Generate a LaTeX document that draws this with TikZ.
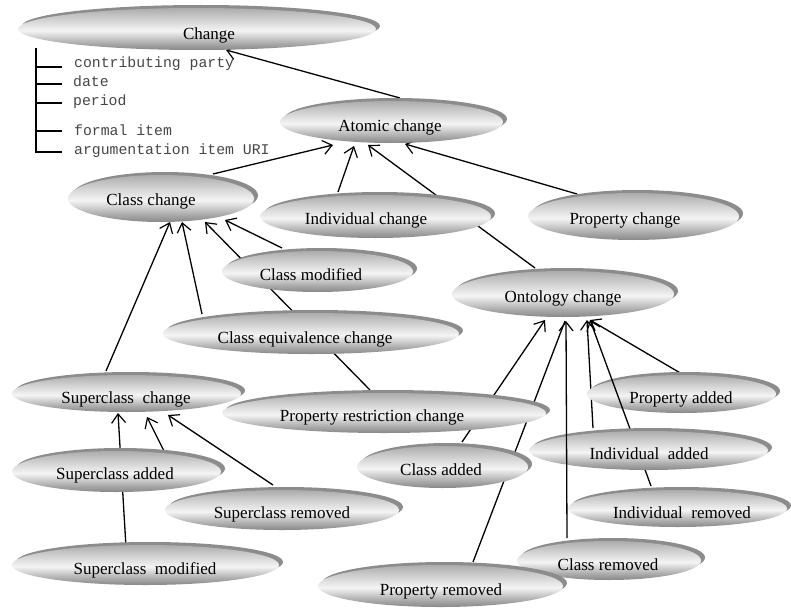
\documentclass[tikz,border=0pt]{standalone}
\usepackage{fontspec}
\setmainfont{Liberation Serif}
\newfontfamily\monof{Liberation Mono}
\usetikzlibrary{arrows.meta,calc,shadows,shapes.geometric}
\definecolor{shc}{RGB}{140,140,140}
\definecolor{gA}{RGB}{136,136,136}
\definecolor{gB}{RGB}{170,170,170}
\definecolor{gC}{RGB}{244,244,244}
\definecolor{gD}{RGB}{208,208,208}
\definecolor{gE}{RGB}{172,172,172}
\definecolor{monoc}{RGB}{70,70,70}
\pgfdeclareverticalshading{ovsh}{100bp}{color(0bp)=(gA); color(25bp)=(gA); color(33bp)=(gB); color(48bp)=(gC); color(62bp)=(gD); color(75bp)=(gE); color(100bp)=(gE)}
\pgfdeclarelayer{bg}
\pgfdeclarelayer{front}
\pgfsetlayers{bg,main,front}
\newcommand{\ovnode}[5]{\node[ov, minimum width=#4pt, minimum height=#5pt] (#1) at (#2,#3) {};}
\newcommand{\ovtext}[4]{\node[lab] (#1t) at (#2,#3+2) {#4};}
\begin{document}
\begin{tikzpicture}[x=1pt,y=-1pt,
  ov/.style={ellipse, inner sep=0pt, outer sep=0pt, shade, shading=ovsh,
    general shadow={fill=shc, shadow xshift=4pt, shadow yshift=3pt}},
  lab/.style={anchor=base, inner sep=0pt, font=\fontsize{17}{20}\selectfont},
  mono/.style={anchor=base west, inner sep=0pt, text=monoc, font=\monof\fontsize{14.8}{17}\selectfont},
  conn/.style={line width=1.3pt, -{Straight Barb[length=9pt,width=14pt,line width=1.2pt]}},
  plain/.style={line width=1.3pt},
  brk/.style={line width=1.5pt}]
\useasboundingbox (0,0) rectangle (791,607);

% bracket with attributes
\draw[brk] (36,48) -- (36,152) -- (62,152);
\draw[brk] (36,67) -- (62,67);
\draw[brk] (36,84) -- (62,84);
\draw[brk] (36,103) -- (62,103);
\draw[brk] (36,131) -- (62,131);
\node[mono] (m1) at (74,68) {contributing party};
\node[mono] (m2) at (73,87) {date};
\node[mono] (m3) at (73,106) {period};
\node[mono] (m4) at (74,135) {formal item};
\node[mono] (m5) at (74,154) {argumentation item URI};

% ovals
\ovnode{ch}{197}{29}{358}{42}      \ovtext{ch}{209}{37.5}{Change}
\ovnode{at}{391.5}{122}{223}{42}   \ovtext{at}{390}{129.5}{Atomic change}
\ovnode{cc}{161}{198.5}{186}{47}   \ovtext{cc}{151}{203.5}{Class change}
\ovnode{ic}{375.5}{216.5}{231}{43} \ovtext{ic}{366}{222.5}{Individual change}
\ovnode{pc}{633.5}{216.5}{211}{47} \ovtext{pc}{625}{222.5}{Property change}
\ovnode{cm}{317.5}{271.5}{191}{41} \ovtext{cm}{311}{278.5}{Class modified}
\ovnode{oc}{563}{294}{222}{46}     \ovtext{oc}{563}{300.5}{Ontology change}
\ovnode{ce}{311}{333.5}{296}{41}   \ovtext{ce}{305}{341.5}{Class equivalence change}
\ovnode{sc}{126.5}{393.5}{229}{37} \ovtext{sc}{126}{401.5}{Superclass\ \ change}
\ovnode{pr}{384}{413}{324}{40}     \ovtext{pr}{372}{419.5}{Property restriction change}
\ovnode{sa}{116.5}{471.5}{209}{41} \ovtext{sa}{115}{477.5}{Superclass added}
\ovnode{sr}{282}{510}{234}{40}     \ovtext{sr}{282}{516.5}{Superclass removed}
\ovnode{sm}{145.5}{565}{267}{40}   \ovtext{sm}{145}{572.5}{Superclass\ \ modified}
\ovnode{ca}{442.5}{467}{171}{42}   \ovtext{ca}{441}{473.5}{Class added}
\ovnode{pa}{681.5}{394}{189}{38}   \ovtext{pa}{681}{401.5}{Property added}
\ovnode{ir}{677.5}{508.5}{219}{37} \ovtext{ir}{682}{516.5}{Individual\ \ removed}
\draw[conn] ($(ir)+(-26.5,-22.5)$) -- ($(oc)+(27,26)$);
\ovnode{ia}{648.5}{450.5}{239}{39} \ovtext{ia}{649}{457.5}{Individual\ \ added}
\begin{pgfonlayer}{front}
\ovnode{cr}{609}{560.5}{184}{39}   \ovtext{cr}{608}{568.5}{Class removed}
\ovnode{prm}{440.5}{586}{245}{42}  \ovtext{prm}{441}{593.5}{Property removed}
\end{pgfonlayer}
\draw[conn] ($(cr)+(-42,-22.5)$) -- ($(oc)+(3,27)$);

% connectors behind the ovals
\begin{pgfonlayer}{bg}
\draw[conn] ($(at)+(8.5,-24)$) -- ($(ch)+(29,21)$);
\draw[conn] ($(cc)+(52,-24.5)$) -- ($(at)+(-58.5,23)$);
\draw[conn] ($(ic)+(-37.5,-24.5)$) -- ($(at)+(-37.5,24)$);
\draw[conn] ($(oc)+(-28,-26)$) -- ($(at)+(-23.5,23)$);
\draw[conn] ($(pc)+(-56.5,-22.5)$) -- ($(at)+(13.5,22)$);
\draw[conn] ($(sc)+(-20.5,-22.5)$) -- ($(cc)+(9,23.5)$);
\draw[conn] ($(ce)+(-109,-19.5)$) -- ($(cc)+(21,23.5)$);
\draw[conn] ($(pr)+(-14,-23)$) -- ($(cc)+(44,23.5)$);
\draw[conn] ($(cm)+(-35.5,-23.5)$) -- ($(cc)+(64,21.5)$);
\draw[conn] ($(sa)+(47.5,-20.5)$) -- ($(sc)+(20.5,23.5)$);
\draw[conn] ($(sm)+(-19.5,-18)$) -- ($(sc)+(-8.5,19.5)$);
\draw[conn] ($(sr)+(-9,-25)$) -- ($(sc)+(41.5,21.5)$);
\draw[conn] ($(ca)+(19.5,-25)$) -- ($(oc)+(-18,26)$);
\draw[plain] ($(prm)+(32.5,-24)$) -- ($(oc)+(2,27)$);
\draw[conn] ($(ia)+(-55.5,-22.5)$) -- ($(oc)+(24,26)$);
\draw[conn] ($(pa)+(0.5,-20)$) -- ($(oc)+(27,26)$);
\end{pgfonlayer}
\end{tikzpicture}
\end{document}
